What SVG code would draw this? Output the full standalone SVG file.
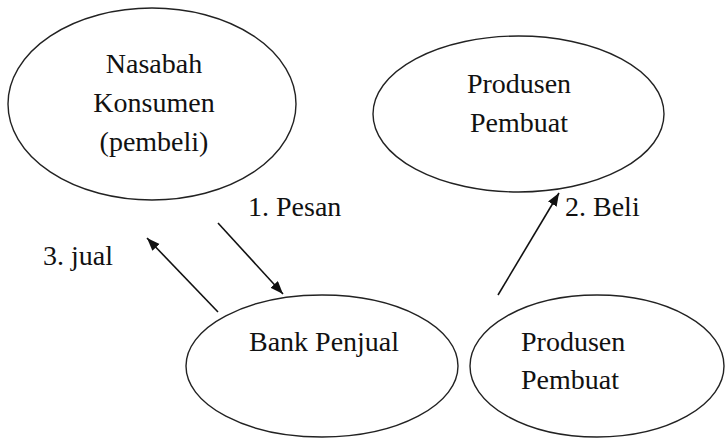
<svg xmlns="http://www.w3.org/2000/svg" width="726" height="439" viewBox="0 0 726 439">
<style>
.node ellipse{fill:#fff;stroke:#222;stroke-width:1.4}
.t{font-family:'Liberation Serif','Times New Roman',serif;font-size:28px;fill:#111}
.c{text-anchor:middle}
.conn line{stroke:#111;stroke-width:1.6;fill:none}
</style>
<defs>
<marker id="ah" markerUnits="userSpaceOnUse" markerWidth="14" markerHeight="12" refX="13" refY="5" orient="auto">
<path d="M0,0 L13,5 L0,10 z" fill="#111"/>
</marker>
</defs>
<rect width="726" height="439" fill="#fff"/>
<g id="nasabah" class="node">
<ellipse cx="152" cy="104" rx="144" ry="96"/>
<text class="t c" x="154" y="73">Nasabah</text>
<text class="t c" x="154" y="112">Konsumen</text>
<text class="t c" x="154" y="151">(pembeli)</text>
</g>
<g id="produsen-atas" class="node">
<ellipse cx="518.5" cy="114" rx="145.5" ry="78"/>
<text class="t c" x="519" y="93">Produsen</text>
<text class="t c" x="519" y="132">Pembuat</text>
</g>
<g id="bank" class="node">
<ellipse cx="322" cy="366" rx="136" ry="71"/>
<text class="t c" x="324" y="351">Bank Penjual</text>
</g>
<g id="produsen-bawah" class="node">
<ellipse cx="597" cy="366" rx="127" ry="71"/>
<text class="t" x="521" y="351">Produsen</text>
<text class="t" x="521" y="389">Pembuat</text>
</g>
<g id="connectors" class="conn">
<line x1="218" y1="223" x2="283" y2="294" marker-end="url(#ah)"/>
<line x1="218" y1="312" x2="147" y2="238" marker-end="url(#ah)"/>
<line x1="498" y1="295" x2="559" y2="193" marker-end="url(#ah)"/>
</g>
<g id="labels">
<text class="t" x="248" y="216">1. Pesan</text>
<text class="t" x="565" y="216">2. Beli</text>
<text class="t" x="43" y="265">3. jual</text>
</g>
</svg>
